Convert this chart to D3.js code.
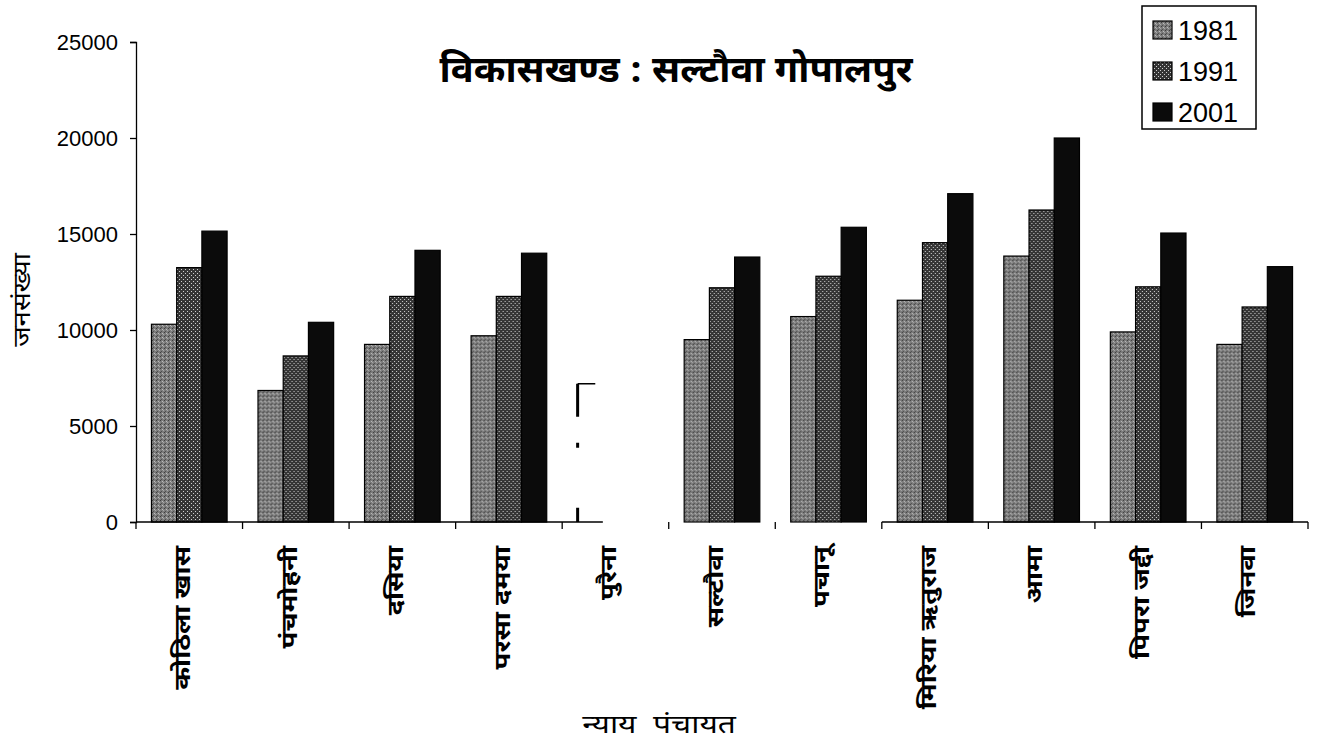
<!DOCTYPE html>
<html>
<head>
<meta charset="utf-8">
<script src="https://cdn.jsdelivr.net/npm/d3@7"></script>
<style>
  body { margin: 0; background: #fff; }
  svg { display: block; }
  .tick text { font-family: "Liberation Sans", Arial, sans-serif; }
  .deva { font-family: "Noto Sans Devanagari", "Noto Sans", "Lohit Devanagari", sans-serif; }
  .pre { white-space: pre; }
</style>
</head>
<body>
<svg id="chart" width="1328" height="749"></svg>
<script>
// Population of each nyaya panchayat, census years 1981 / 1991 / 2001
const categories = ["कोठिला खास", "पंचमोहनी", "दसिया", "परसा दमया", "पुरैना",
                    "सल्टौवा", "पचानू", "मिरिया ऋतुराज", "आमा", "पिपरा जद्दी", "जिनवा"];
const years = ["1981", "1991", "2001"];
const pop1981 = [10300, 6850, 9250, 9700, 7200, 9500, 10700, 11550, 13850, 9900, 9250];
const pop1991 = [13250, 8650, 11750, 11750, null, 12200, 12800, 14550, 16250, 12250, 11200];
const pop2001 = [15150, 10400, 14150, 14000, null, 13800, 15350, 17100, 20000, 15050, 13300];
const yTicks = [0, 5000, 10000, 15000, 20000, 25000];
// the पुरैना figures are only partly legible; its 1981 bar is drawn faded
const fadedCategory = "पुरैना";

const titleText = "विकासखण्ड : सल्टौवा गोपालपुर";
const yTitle = "जनसंख्या";
const xTitle = "न्याय  पंचायत";

const series = [pop1981, pop1991, pop2001];
const rows = categories.map((c, i) => ({
  name: c,
  values: years.map((yr, k) => ({ year: yr, value: series[k][i], name: c }))
}));

const svg = d3.select("#chart");
const plotLeft = 136, plotRight = 1308, plotTop = 42, plotBottom = 522;

const x = d3.scaleBand().domain(categories).range([plotLeft, plotRight]).padding(0);
const xInner = d3.scaleBand().domain(years)
  .range([x.bandwidth() * 0.145, x.bandwidth() * 0.855]).padding(0);
const y = d3.scaleLinear().domain([0, 25000]).range([plotBottom, plotTop]);

// fill textures for the three years
const defs = svg.append("defs");
const p81 = defs.append("pattern").attr("id", "pat1981")
  .attr("width", 4).attr("height", 4).attr("patternUnits", "userSpaceOnUse");
p81.append("rect").attr("width", 4).attr("height", 4).attr("fill", "#7c7c7c");
p81.append("rect").attr("x", 0).attr("y", 0).attr("width", 1).attr("height", 1).attr("fill", "#3e3e3e");
p81.append("rect").attr("x", 2).attr("y", 1).attr("width", 1).attr("height", 1).attr("fill", "#bdbdbd");
p81.append("rect").attr("x", 1).attr("y", 3).attr("width", 1).attr("height", 1).attr("fill", "#4e4e4e");
p81.append("rect").attr("x", 3).attr("y", 2).attr("width", 1).attr("height", 1).attr("fill", "#a8a8a8");

const p91 = defs.append("pattern").attr("id", "pat1991")
  .attr("width", 4).attr("height", 4).attr("patternUnits", "userSpaceOnUse");
p91.append("rect").attr("width", 4).attr("height", 4).attr("fill", "#353535");
p91.append("rect").attr("x", 1).attr("y", 1).attr("width", 1).attr("height", 1).attr("fill", "#d0d0d0");
p91.append("rect").attr("x", 3).attr("y", 3).attr("width", 1).attr("height", 1).attr("fill", "#d0d0d0");

const fills = { "1981": "url(#pat1981)", "1991": "url(#pat1991)", "2001": "#0b0b0b" };

// bars
const groups = svg.append("g").selectAll("g").data(rows).join("g")
  .attr("transform", d => `translate(${x(d.name)},0)`);

groups.selectAll("rect")
  .data(d => d.values.filter(v => v.value != null && v.name !== fadedCategory))
  .join("rect")
  .attr("x", d => xInner(d.year))
  .attr("y", d => y(d.value))
  .attr("width", xInner.bandwidth())
  .attr("height", d => y(0) - y(d.value))
  .attr("fill", d => fills[d.year])
  .attr("stroke", "#000")
  .attr("stroke-width", 1.2);

// faded bar: only broken fragments of its outline remain
const faded = groups.filter(d => d.name === fadedCategory)
  .selectAll("g.faded")
  .data(d => d.values.filter(v => v.value != null))
  .join("g").attr("class", "faded");
faded.append("line")
  .attr("x1", d => xInner(d.year)).attr("x2", d => xInner(d.year))
  .attr("y1", d => y(d.value)).attr("y2", y(0))
  .attr("stroke", "#000").attr("stroke-width", 3)
  .attr("stroke-dasharray", "33 26 5 60 18 0");
faded.append("line")
  .attr("x1", d => xInner(d.year)).attr("x2", d => xInner(d.year) + xInner.bandwidth() * 0.7)
  .attr("y1", d => y(d.value)).attr("y2", d => y(d.value))
  .attr("stroke", "#000").attr("stroke-width", 1.5);

// y axis
const yAxis = svg.append("g").attr("transform", `translate(${plotLeft},0)`)
  .call(d3.axisLeft(y).tickValues(yTicks).tickSize(6).tickPadding(12).tickFormat(d3.format("d")));
yAxis.select(".domain").attr("stroke", "#000").attr("stroke-width", 1.3);
yAxis.selectAll(".tick line").attr("stroke", "#000").attr("stroke-width", 1.3);
yAxis.selectAll(".tick text").attr("font-size", 22).attr("fill", "#000");

// x axis: ticks at the band boundaries
const boundaries = categories.map(c => x(c)).concat([plotRight]);
const xb = svg.append("g").attr("transform", `translate(0,${plotBottom})`);
xb.selectAll("line.tk").data(boundaries).join("line").attr("class", "tk")
  .attr("x1", d => d).attr("x2", d => d).attr("y1", 0).attr("y2", 7)
  .attr("stroke", "#000").attr("stroke-width", 1.3);
// baseline, broken beneath the faded group as printed
const iFaded = categories.indexOf(fadedCategory);
const segs = [
  [plotLeft, x(fadedCategory) + xInner(years[0]) + xInner.bandwidth()],
  [x(categories[iFaded + 3]), plotRight]
];
xb.selectAll("line.base").data(segs).join("line").attr("class", "base")
  .attr("x1", d => d[0]).attr("x2", d => d[1]).attr("y1", 0).attr("y2", 0)
  .attr("stroke", "#000").attr("stroke-width", 1.5);

// category labels, rotated and drawn in a tall, condensed face
svg.append("g").selectAll("text").data(categories).join("text")
  .attr("class", "deva")
  .attr("transform", d => `translate(${x(d) + x.bandwidth() / 2 - 7},${plotBottom + 24}) rotate(-90) scale(1.25,1)`)
  .attr("text-anchor", "end")
  .attr("dy", "0.35em")
  .attr("font-size", 22)
  .attr("font-weight", "bold")
  .text(d => d);

// titles
svg.append("text").attr("class", "deva")
  .attr("transform", "translate(676,82) scale(1.06,1)")
  .attr("text-anchor", "middle")
  .attr("font-size", 36).attr("font-weight", "bold")
  .text(titleText);

svg.append("text").attr("class", "deva")
  .attr("transform", `translate(22,300) rotate(-90) scale(1.15,1)`)
  .attr("text-anchor", "middle").attr("dy", "0.35em")
  .attr("font-size", 24)
  .text(yTitle);

svg.append("text").attr("class", "deva pre")
  .attr("transform", "translate(659,733) scale(1.22,1)")
  .attr("text-anchor", "middle")
  .attr("font-size", 26)
  .text(xTitle);

// legend
const lg = svg.append("g").attr("transform", "translate(1142,6)");
lg.append("rect").attr("width", 114).attr("height", 123)
  .attr("fill", "#fff").attr("stroke", "#000").attr("stroke-width", 1.5);
const li = lg.selectAll("g.item").data(years).join("g").attr("class", "item")
  .attr("transform", (d, i) => `translate(11,${24 + i * 41})`);
li.append("rect").attr("x", 0).attr("y", -9).attr("width", 19).attr("height", 18)
  .attr("fill", d => fills[d]).attr("stroke", "#000").attr("stroke-width", 1.2);
li.append("text").attr("x", 25).attr("dy", "0.36em")
  .attr("font-family", "'Liberation Sans', Arial, sans-serif")
  .attr("font-size", 27)
  .text(d => d);
</script>
</body>
</html>
